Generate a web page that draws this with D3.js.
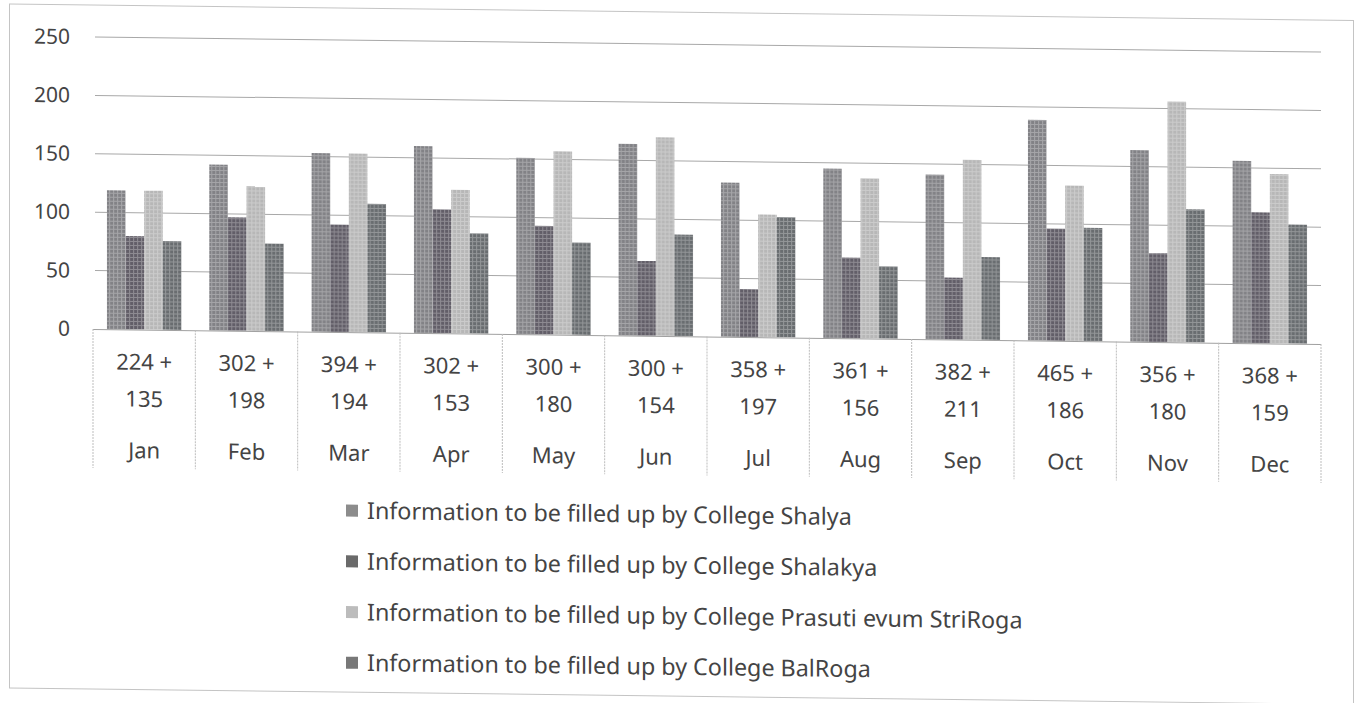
<!DOCTYPE html>
<html>
<head>
<meta charset="utf-8">
<script src="https://cdn.jsdelivr.net/npm/d3@7"></script>
<style>
  body { margin: 0; background: #fff; }
  svg text { font-family: "Noto Sans", "Open Sans", sans-serif; fill: #444; }
</style>
</head>
<body>
<div id="chart"></div>
<script>
var months = ["Jan", "Feb", "Mar", "Apr", "May", "Jun", "Jul", "Aug", "Sep", "Oct", "Nov", "Dec"]
var topLine = ["224 +", "302 +", "394 +", "302 +", "300 +", "300 +", "358 +", "361 +", "382 +", "465 +", "356 +", "368 +"]
var bottomLine = ["135", "198", "194", "153", "180", "154", "197", "156", "211", "186", "180", "159"]

var shalya = [119, 142, 153, 160, 151, 164, 132, 145, 141, 189, 164, 156]
var shalakya = [80, 97, 92, 106, 93, 64, 41, 69, 53, 96, 76, 112]
var prasuti = [119, 124, 153, 123, 157, 170, 105, 137, 154, 133, 206, 145]
var balroga = [76, 75, 110, 86, 79, 87, 103, 62, 71, 97, 114, 102]

var seriesNames = [
  "Information to be filled up by College Shalya",
  "Information to be filled up by College Shalakya",
  "Information to be filled up by College Prasuti evum StriRoga",
  "Information to be filled up by College BalRoga"
]
var yTicks = [0, 50, 100, 150, 200, 250]

var WIDTH = 1367, HEIGHT = 703
var PLOT = {LEFT: 93, RIGHT: 1321, TOP: 44.5, BOTTOM: 336.5}
var SKEW = 0.7   // the scanned page is slightly tilted
var seriesColor = ["#828286", "#625e68", "#b7b7b7", "#696d70"]
var legendColor = ["#8c8c8c", "#6a6a6a", "#bcbcbc", "#787878"]

var svg = d3.select("#chart").append("svg")
  .attr("width", WIDTH)
  .attr("height", HEIGHT)

// halftone-ish fill for every series
var defs = svg.append("defs")
seriesColor.forEach(function(c, i) {
  var p = defs.append("pattern")
    .attr("id", "pat" + i)
    .attr("patternUnits", "userSpaceOnUse")
    .attr("width", 4).attr("height", 4)
  p.append("rect").attr("width", 4).attr("height", 4).attr("fill", c)
  p.append("path").attr("d", "M0,0.5H4M0.5,0V4")
    .attr("stroke", "#fff").attr("stroke-opacity", 0.28).attr("stroke-width", 1)
})

var cx = (PLOT.LEFT + PLOT.RIGHT) / 2
var g = svg.append("g")
  .attr("transform", "translate(" + cx + ",0) skewY(" + SKEW + ") translate(" + (-cx) + ",0)")

// chart frame
g.append("rect")
  .attr("x", 9.5).attr("y", 12.5)
  .attr("width", 1344).attr("height", 684)
  .attr("fill", "none").attr("stroke", "#c4c4c4").attr("stroke-width", 1)

var x0 = d3.scaleBand().domain(months).range([PLOT.LEFT, PLOT.RIGHT])
var x1 = d3.scaleBand().domain(d3.range(4)).range([0, x0.bandwidth()]).paddingOuter(0.75)
var y = d3.scaleLinear().domain([0, 250]).range([PLOT.BOTTOM, PLOT.TOP])

// gridlines
g.append("g").selectAll("line")
  .data(yTicks.slice(1))
  .enter().append("line")
  .attr("x1", PLOT.LEFT + 2).attr("x2", PLOT.RIGHT)
  .attr("y1", function(d) { return y(d) }).attr("y2", function(d) { return y(d) })
  .attr("stroke", "#a8a8a8").attr("stroke-width", 1)

// y axis labels
var yAxis = d3.axisLeft(y).tickValues(yTicks).tickSize(0).tickPadding(23)
var ya = g.append("g").attr("transform", "translate(" + PLOT.LEFT + ",0)").call(yAxis)
ya.select(".domain").remove()
ya.selectAll("text").style("font-size", "21px").style("font-family", "'Noto Sans', sans-serif").attr("fill", "#4a4a4a")

// bars
var allSeries = [shalya, shalakya, prasuti, balroga]
var groups = g.append("g").selectAll("g")
  .data(months)
  .enter().append("g")
  .attr("transform", function(d) { return "translate(" + x0(d) + ",0)" })

groups.selectAll("rect")
  .data(function(d, i) { return allSeries.map(function(s, k) { return {k: k, v: s[i]} }) })
  .enter().append("rect")
  .attr("x", function(d) { return x1(d.k) })
  .attr("width", x1.bandwidth())
  .attr("y", function(d) { return y(d.v) })
  .attr("height", function(d) { return y(0) - y(d.v) })
  .attr("fill", function(d) { return "url(#pat" + d.k + ")" })

// category axis as a small table
g.append("line")
  .attr("x1", PLOT.LEFT).attr("x2", PLOT.RIGHT)
  .attr("y1", y(0) + 0.5).attr("y2", y(0) + 0.5)
  .attr("stroke", "#a0a0a0")

var seps = months.map(function(m) { return x0(m) }).concat([PLOT.RIGHT])
g.append("g").selectAll("line")
  .data(seps)
  .enter().append("line")
  .attr("x1", function(d) { return d }).attr("x2", function(d) { return d })
  .attr("y1", y(0)).attr("y2", y(0) + 139)
  .attr("stroke", "#bdbdbd").attr("stroke-dasharray", "2,1")

var cat = g.append("g").selectAll("g")
  .data(months)
  .enter().append("g")
  .attr("transform", function(d) { return "translate(" + (x0(d) + x0.bandwidth() / 2) + "," + y(0) + ")" })

cat.append("text").attr("y", 32.5).attr("dy", "0.35em").attr("text-anchor", "middle")
  .style("font-size", "22px").text(function(d, i) { return topLine[i] })
cat.append("text").attr("y", 69.5).attr("dy", "0.35em").attr("text-anchor", "middle")
  .style("font-size", "22px").text(function(d, i) { return bottomLine[i] })
cat.append("text").attr("y", 121).attr("dy", "0.35em").attr("text-anchor", "middle")
  .style("font-size", "22px").text(function(d) { return d })

// legend
var legend = g.append("g").selectAll("g")
  .data(seriesNames)
  .enter().append("g")
  .attr("transform", function(d, i) { return "translate(346," + (515 + i * 50.7) + ")" })

legend.append("rect")
  .attr("x", 0).attr("y", -6).attr("width", 12).attr("height", 12)
  .attr("fill", function(d, i) { return legendColor[i] })
legend.append("text")
  .attr("x", 21).attr("dy", "0.35em")
  .style("font-size", "23.3px")
  .attr("fill", "#333")
  .text(function(d) { return d })
</script>
</body>
</html>
